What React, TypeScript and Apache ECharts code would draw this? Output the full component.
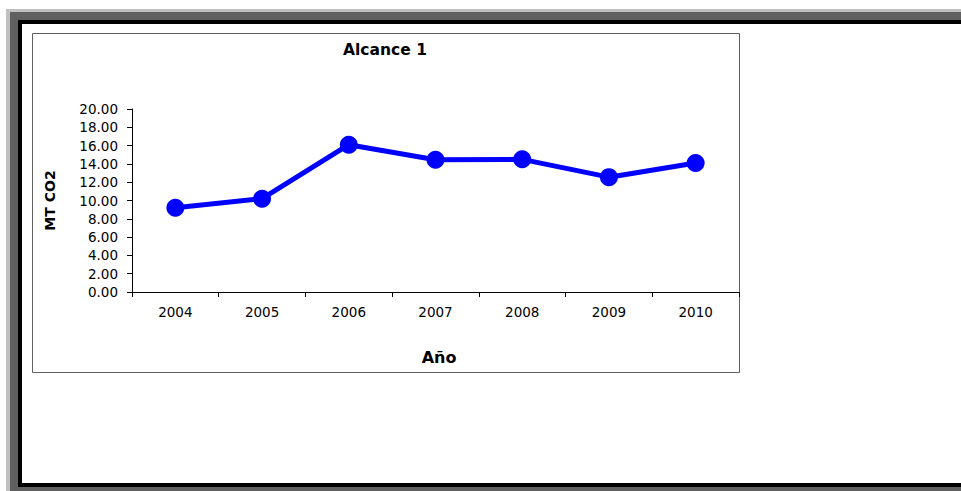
import React, { useEffect, useRef } from "react";
import * as echarts from "echarts";

const years = ["2004", "2005", "2006", "2007", "2008", "2009", "2010"];
const values = [9.2, 10.2, 16.1, 14.45, 14.5, 12.55, 14.1];
const titleText = "Alcance 1";
const yName = "MT CO2";
const xName = "Año";

const FONT = "'DejaVu Sans', Arial, sans-serif";

export default function App() {
  const ref = useRef<HTMLDivElement>(null);
  useEffect(() => {
    if (!ref.current) return;
    const chart = echarts.init(ref.current, null, { renderer: "svg" });
    chart.setOption({
      animation: false,
      backgroundColor: "#ffffff",
      graphic: [
        { type: "rect", z: -10, shape: { x: 6, y: 9, width: 955, height: 482 }, style: { fill: "#c0c0c0" } },
        { type: "rect", z: -10, shape: { x: 10, y: 12, width: 951, height: 479 }, style: { fill: "#606060" } },
        { type: "rect", z: -10, shape: { x: 18, y: 20, width: 943, height: 467 }, style: { fill: "#000000" } },
        { type: "rect", z: -10, shape: { x: 22, y: 24, width: 939, height: 459 }, style: { fill: "#ffffff" } },
        { type: "rect", z: -9, shape: { x: 32.5, y: 33.5, width: 707, height: 339 }, style: { fill: "none", stroke: "#606060", lineWidth: 1 } },
        {
          type: "text",
          z: 5,
          x: 385,
          y: 50,
          style: {
            text: titleText,
            fill: "#000",
            font: `bold 15.5px ${FONT}`,
            align: "center",
            verticalAlign: "middle",
          },
        },
      ],
      grid: { left: 132, top: 109, right: 222, bottom: 199, containLabel: false },
      xAxis: {
        type: "category",
        data: years,
        boundaryGap: true,
        name: xName,
        nameLocation: "middle",
        nameGap: 57,
        nameTextStyle: { fontFamily: FONT, fontWeight: "bold", fontSize: 16, color: "#000", padding: [0, 0, 0, 7] },
        axisLine: { lineStyle: { color: "#000", width: 1 } },
        axisTick: { show: true, inside: false, length: 5, interval: 0, lineStyle: { color: "#000" } },
        axisLabel: { color: "#000", fontFamily: FONT, fontSize: 13.5, margin: 13, interval: 0 },
        splitLine: { show: false },
      },
      yAxis: {
        type: "value",
        min: 0,
        max: 20,
        interval: 2,
        name: yName,
        nameLocation: "middle",
        nameRotate: 90,
        nameGap: 75,
        nameTextStyle: { fontFamily: FONT, fontWeight: "bold", fontSize: 14, color: "#000" },
        axisLine: { show: true, lineStyle: { color: "#000", width: 1 } },
        axisTick: { show: true, inside: false, length: 5, lineStyle: { color: "#000" } },
        axisLabel: {
          color: "#000",
          fontFamily: FONT,
          fontSize: 13.5,
          margin: 14,
          formatter: (v: number) => v.toFixed(2),
        },
        splitLine: { show: false },
      },
      series: [
        {
          type: "line",
          data: values,
          symbol: "circle",
          symbolSize: 18,
          lineStyle: { color: "#0000ff", width: 5 },
          itemStyle: { color: "#0000ff" },
          z: 3,
        },
      ],
    });
    return () => chart.dispose();
  }, []);
  return (
    <div
      ref={ref}
      style={{ position: "fixed", left: 0, top: 0, width: 961, height: 491 }}
    />
  );
}
